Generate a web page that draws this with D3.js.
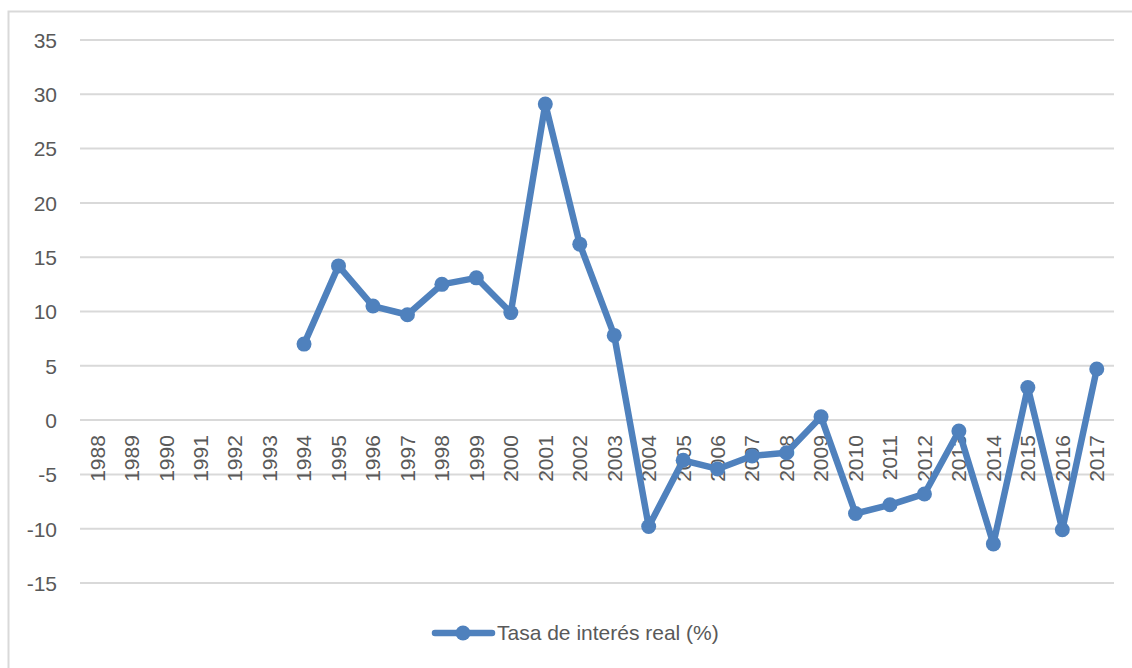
<!DOCTYPE html>
<html>
<head>
<meta charset="utf-8">
<script src="https://cdn.jsdelivr.net/npm/d3@7"></script>
<style>
  html, body { margin: 0; padding: 0; background: #fff; }
  svg text { font-family: "Liberation Sans", Arial, sans-serif; fill: #595959; }
</style>
</head>
<body>
<svg id="chart" width="1132" height="668"></svg>
<script>
const years = ["1988","1989","1990","1991","1992","1993","1994","1995","1996","1997","1998","1999","2000","2001","2002","2003","2004","2005","2006","2007","2008","2009","2010","2011","2012","2013","2014","2015","2016","2017"];
const rates = [null,null,null,null,null,null,7.0,14.2,10.5,9.7,12.5,13.1,9.9,29.1,16.2,7.8,-9.8,-3.7,-4.5,-3.3,-3.0,0.3,-8.6,-7.8,-6.8,-1.0,-11.4,3.0,-10.1,4.7];
const yTicks = [35,30,25,20,15,10,5,0,-5,-10,-15];
const seriesName = "Tasa de interés real (%)";

const svg = d3.select("#chart");
const color = "#4f81bd";

// chart area border (left + top visible)
svg.append("path").attr("d", "M8.5,668 L8.5,11.5 L1132,11.5")
  .attr("fill", "none").attr("stroke", "#d9d9d9").attr("stroke-width", 2);

const x = d3.scaleBand().domain(years).range([80, 1114]);
const y = d3.scaleLinear().domain([-15, 35]).range([583, 40]);

// gridlines
svg.append("g").selectAll("line").data(yTicks).join("line")
  .attr("x1", 80).attr("x2", 1114)
  .attr("y1", d => y(d)).attr("y2", d => y(d))
  .attr("stroke", "#d9d9d9").attr("stroke-width", 2);

// y axis labels
const yAxis = d3.axisLeft(y).tickValues(yTicks).tickSize(0).tickPadding(0).tickFormat(d => String(d));
const gy = svg.append("g").attr("transform", "translate(57,0)").call(yAxis);
gy.select(".domain").remove();
gy.selectAll("text").attr("font-size", 21).attr("font-family", null).attr("fill", "#595959").attr("dy", "0.35em");

// x axis labels (rotated) near the zero line
const xAxis = d3.axisBottom(x).tickSize(0).tickPadding(0);
const gx = svg.append("g").attr("transform", `translate(0,${y(0)})`).call(xAxis);
gx.select(".domain").remove();
gx.selectAll("text")
  .attr("font-size", 21).attr("font-family", null).attr("fill", "#595959")
  .attr("text-anchor", "end")
  .attr("transform", "rotate(-90)")
  .attr("x", -15).attr("y", 0).attr("dy", "0.35em");

// line
const pts = years.map((yr, i) => ({yr, v: rates[i]})).filter(d => d.v !== null);
const line = d3.line().x(d => x(d.yr) + x.bandwidth() / 2).y(d => y(d.v));
svg.append("path").datum(pts).attr("d", line)
  .attr("fill", "none").attr("stroke", color).attr("stroke-width", 6.5)
  .attr("stroke-linejoin", "round").attr("stroke-linecap", "round");
svg.append("g").selectAll("circle").data(pts).join("circle")
  .attr("cx", d => x(d.yr) + x.bandwidth() / 2).attr("cy", d => y(d.v))
  .attr("r", 7.5).attr("fill", color);

// legend
const lg = svg.append("g").attr("transform", "translate(435,633)");
lg.append("line").attr("x1", 0).attr("x2", 57).attr("y1", 0).attr("y2", 0)
  .attr("stroke", color).attr("stroke-width", 6.5).attr("stroke-linecap", "round");
lg.append("circle").attr("cx", 28).attr("cy", 0).attr("r", 7.5).attr("fill", color);
lg.append("text").attr("x", 62).attr("y", 0).attr("dy", "0.35em")
  .attr("font-size", 21).text(seriesName);
</script>
</body>
</html>
